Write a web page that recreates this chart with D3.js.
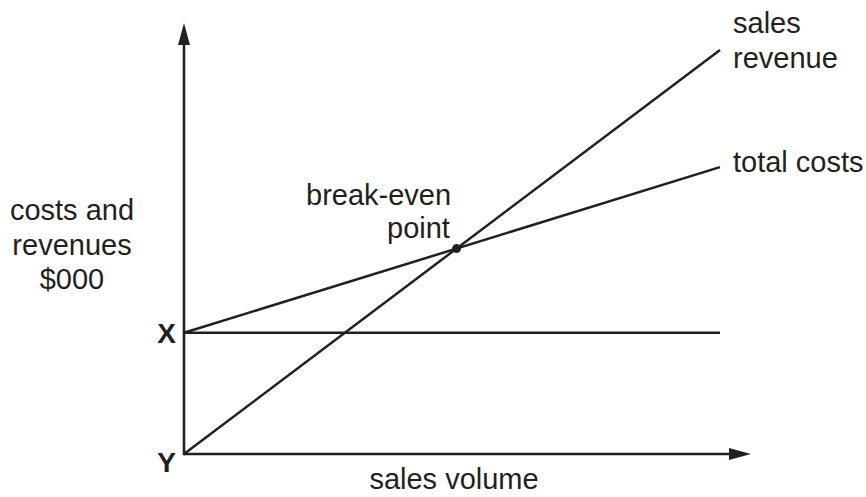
<!DOCTYPE html>
<html>
<head>
<meta charset="utf-8">
<script src="https://cdn.jsdelivr.net/npm/d3@7"></script>
<style>
  body { margin: 0; background: #fff; }
  text { font-family: 'Liberation Sans', Arial, sans-serif; fill: #231f20; }
</style>
</head>
<body>
<svg id="chart" width="866" height="497"></svg>
<script>
// sales volume (relative units, start and end of the drawn lines)
var volume = [0, 100]
// costs and revenues at each volume
var salesRevenue = [0, 100]
var totalCosts = [30, 71]
var fixedCosts = [30, 30]

var lineLabels = [
  { name: 'sales revenue', lines: ['sales', 'revenue'] },
  { name: 'total costs', lines: ['total costs'] }
]
var yAxisTitle = ['costs and', 'revenues', '$000']
var xAxisTitle = 'sales volume'
var pointLabels = ['X', 'Y']

var ink = '#231f20'
var svg = d3.select('#chart')

var x = d3.scaleLinear().domain([0, 100]).range([184, 720])
var y = d3.scaleLinear().domain([0, 100]).range([454, 50])

// axes with arrow heads
var xEnd = 751
var yEnd = 23
svg.append('line')
  .attr('x1', x(0)).attr('y1', y(0)).attr('x2', xEnd - 20).attr('y2', y(0))
  .attr('stroke', ink).attr('stroke-width', 2.6)
svg.append('line')
  .attr('x1', x(0)).attr('y1', y(0) + 1.3).attr('x2', x(0)).attr('y2', yEnd + 20)
  .attr('stroke', ink).attr('stroke-width', 2.6)
svg.append('path')
  .attr('d', 'M' + xEnd + ',' + y(0) + 'L' + (xEnd - 22) + ',' + (y(0) - 6) + 'L' + (xEnd - 22) + ',' + (y(0) + 6) + 'Z')
  .attr('fill', ink)
svg.append('path')
  .attr('d', 'M' + x(0) + ',' + yEnd + 'L' + (x(0) - 6) + ',' + (yEnd + 22) + 'L' + (x(0) + 6) + ',' + (yEnd + 22) + 'Z')
  .attr('fill', ink)

// the three lines
var line = d3.line()
  .x(function (d) { return x(d[0]) })
  .y(function (d) { return y(d[1]) })
var series = [salesRevenue, totalCosts, fixedCosts]
svg.selectAll('.series').data(series).enter().append('path')
  .attr('class', 'series')
  .attr('d', function (vals) { return line(d3.zip(volume, vals)) })
  .attr('fill', 'none')
  .attr('stroke', ink)
  .attr('stroke-width', 2.5)

// break-even: where sales revenue meets total costs
var sr = (salesRevenue[1] - salesRevenue[0]) / (volume[1] - volume[0])
var tc = (totalCosts[1] - totalCosts[0]) / (volume[1] - volume[0])
var beVol = (totalCosts[0] - salesRevenue[0]) / (sr - tc)
var beVal = salesRevenue[0] + sr * beVol
svg.append('circle')
  .attr('cx', x(beVol)).attr('cy', y(beVal)).attr('r', 4.5)
  .attr('fill', ink)

// labels
var fs = 29
svg.append('text').attr('x', 733).attr('y', 33).attr('font-size', fs).text(lineLabels[0].lines[0])
svg.append('text').attr('x', 733).attr('y', 68).attr('font-size', fs).text(lineLabels[0].lines[1])
svg.append('text').attr('x', 733).attr('y', 172).attr('font-size', fs).text(lineLabels[1].lines[0])

svg.append('text').attr('x', 306).attr('y', 205).attr('font-size', fs).text('break-even')
svg.append('text').attr('x', 387).attr('y', 238).attr('font-size', fs).text('point')

svg.selectAll('.ytitle').data(yAxisTitle).enter().append('text')
  .attr('class', 'ytitle')
  .attr('x', 72)
  .attr('y', function (d, i) { return 220 + i * 34.5 })
  .attr('text-anchor', 'middle')
  .attr('font-size', fs)
  .text(function (d) { return d })

svg.append('text').attr('x', 454).attr('y', 489)
  .attr('text-anchor', 'middle').attr('font-size', fs).text(xAxisTitle)

svg.append('text').attr('x', 176).attr('y', y(fixedCosts[0]) + 10)
  .attr('text-anchor', 'end').attr('font-size', 28).attr('font-weight', 'bold')
  .text(pointLabels[0])
svg.append('text').attr('x', 176).attr('y', y(0) + 18)
  .attr('text-anchor', 'end').attr('font-size', 28).attr('font-weight', 'bold')
  .text(pointLabels[1])
</script>
</body>
</html>
